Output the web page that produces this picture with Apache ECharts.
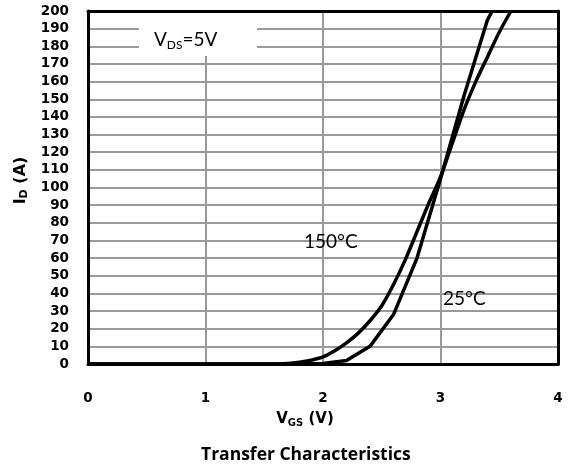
<!DOCTYPE html>
<html><head><meta charset="utf-8">
<script src="https://cdn.jsdelivr.net/npm/echarts@6/dist/echarts.min.js"></script>
<style>html,body{margin:0;padding:0;background:#fff}#c{width:572px;height:464px}</style>
</head><body><div id="c"></div>
<script>
const xTicks = [0, 1, 2, 3, 4];
const yTicks = [0,10,20,30,40,50,60,70,80,90,100,110,120,130,140,150,160,170,180,190,200];
const vgs25 = [0, 1.0, 1.8, 2.0, 2.2, 2.4, 2.6, 2.8, 3.0, 3.2, 3.4, 3.44];
const id25  = [0, 0,   0,   0.3, 2,   10,  28,  60,  105, 152, 195, 200];
const vgs150 = [0, 1.5, 1.7, 1.8, 1.9, 2.0, 2.1, 2.2, 2.3, 2.4, 2.5, 2.6, 2.7, 2.8, 2.9, 3.0, 3.1, 3.2, 3.3, 3.4, 3.5, 3.6];
const id150  = [0, 0,   0.3, 1,   2.2, 4,   7.5, 12,  17.5,24.5,33,  45,  59,  75,  91,  106, 125, 144, 160, 174, 188, 200];
const labels = { t25: '25°C', t150: '150°C', vds: 'V{s|DS}=5V', title: 'Transfer Characteristics' };

const chart = echarts.init(document.getElementById('c'));
const tickFont = { fontFamily: 'DejaVu Sans', fontWeight: 'bold', fontSize: 13.5, color: '#000' };
const border = { show: true, onZero: false, lineStyle: { color: '#000', width: 3 } };
chart.setOption({
  animation: false,
  title: { text: labels.title, left: 196, top: 441, textStyle: { fontFamily: 'Open Sans', fontWeight: 'bold', fontSize: 17.5, color: '#000' } },
  grid: { left: 88, right: 14, top: 11, bottom: 100 },
  xAxis: [{
    type: 'value', min: 0, max: 4, interval: 1,
    name: 'V{s|GS} (V)', nameLocation: 'middle', nameGap: 46,
    nameTextStyle: { fontFamily: 'DejaVu Sans', fontWeight: 'bold', fontSize: 15, color: '#000', padding: [0, 36, 0, 0],
      rich: { s: { fontFamily: 'DejaVu Sans', fontWeight: 'bold', fontSize: 10, padding: [8,0,0,0] } } },
    axisLine: border, axisTick: { show: false },
    axisLabel: Object.assign({ margin: 27 }, tickFont),
    splitLine: { lineStyle: { color: '#9a9a9a', width: 2 } }
  }, {
    type: 'value', min: 0, max: 4, interval: 1, position: 'top',
    axisLine: border, axisTick: { show: false }, axisLabel: { show: false }, splitLine: { show: false }
  }],
  yAxis: [{
    type: 'value', min: 0, max: 200, interval: 10,
    name: 'I{s|D} (A)', nameLocation: 'middle', nameGap: 58,
    nameTextStyle: { fontFamily: 'DejaVu Sans', fontWeight: 'bold', fontSize: 16, color: '#000', padding: [0, 0, 0, 14],
      rich: { s: { fontFamily: 'DejaVu Sans', fontWeight: 'bold', fontSize: 11, padding: [8,0,0,0] } } },
    axisLine: border, axisTick: { show: false },
    axisLabel: Object.assign({ margin: 19 }, tickFont),
    splitLine: { lineStyle: { color: '#9a9a9a', width: 2 } }
  }, {
    type: 'value', min: 0, max: 200, interval: 10, position: 'right',
    axisLine: border, axisTick: { show: false }, axisLabel: { show: false }, splitLine: { show: false }
  }],
  graphic: [
    { type: 'rect', shape: { x: 139, y: 13, width: 118, height: 43 }, style: { fill: '#fff' }, z: 5 },
    { type: 'text', x: 154, y: 29, z: 6, style: { text: labels.vds, font: '19px Lato', fill: '#000',
      rich: { s: { font: '12px Lato', padding: [10,0,0,0] } } } },
    { type: 'text', x: 304, y: 232, z: 6, style: { text: labels.t150, font: '19px Lato', fill: '#000' } },
    { type: 'text', x: 443, y: 289, z: 6, style: { text: labels.t25, font: '19px Lato', fill: '#000' } }
  ],
  series: [
    { name: '25°C', type: 'line', showSymbol: false, smooth: false, clip: true,
      data: vgs25.map((v, i) => [v, id25[i]]), lineStyle: { color: '#000', width: 3.5 }, z: 10 },
    { name: '150°C', type: 'line', showSymbol: false, smooth: 0.3, clip: true,
      data: vgs150.map((v, i) => [v, id150[i]]), lineStyle: { color: '#000', width: 3.5 }, z: 10 }
  ]
});
</script></body></html>
